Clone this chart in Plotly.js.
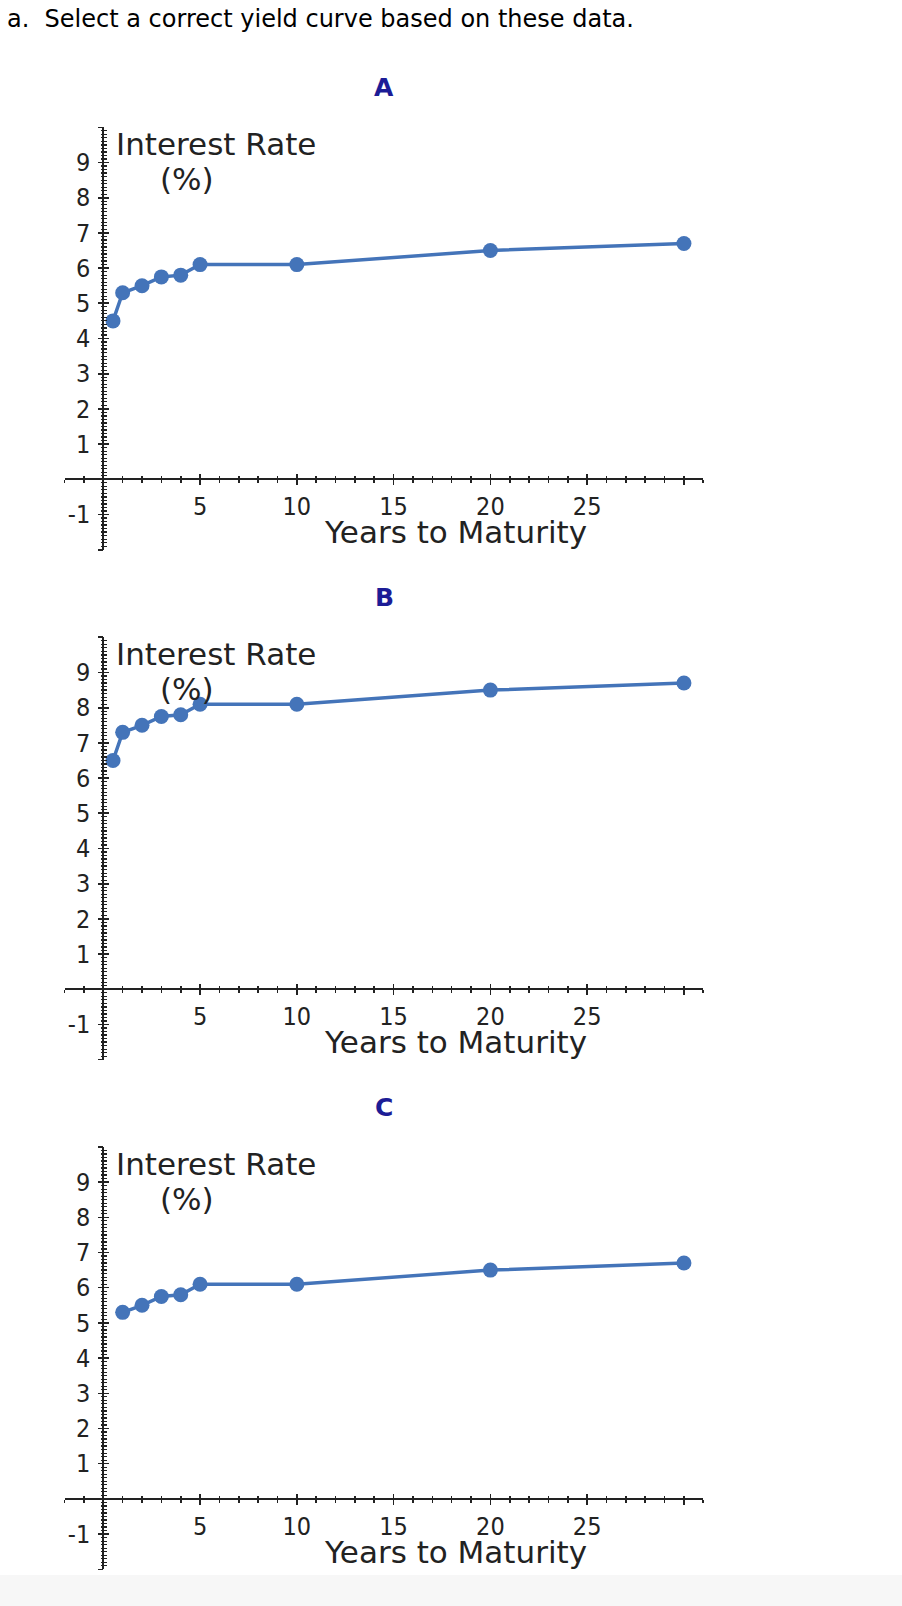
<!DOCTYPE html>
<html>
<head>
<meta charset="utf-8">
<script src="https://cdn.plot.ly/plotly-3.0.1.min.js"></script>
<style>
  html, body { margin: 0; padding: 0; background: #f7f7f7; }
  #chart { width: 902px; height: 1575px; background: #ffffff; }
</style>
</head>
<body>
<div id="chart"></div>
<script>
// ---- data ----
const headerText = "a.\u00a0 Select a correct yield curve based on these data.";
const panelTitles = ["A", "B", "C"];
const yearsAB = [0.5, 1, 2, 3, 4, 5, 10, 20, 30];
const rateA = [4.5, 5.3, 5.5, 5.75, 5.8, 6.1, 6.1, 6.5, 6.7];
const rateB = [6.5, 7.3, 7.5, 7.75, 7.8, 8.1, 8.1, 8.5, 8.7];
const yearsC = [1, 2, 3, 4, 5, 10, 20, 30];
const rateC = [5.3, 5.5, 5.75, 5.8, 6.1, 6.1, 6.5, 6.7];
const xTickVals = [0, 5, 10, 15, 20, 25, 30];
const xTickText = ["", "5", "10", "15", "20", "25", ""];
const yTickVals = [-2, -1, 0, 1, 2, 3, 4, 5, 6, 7, 8, 9, 10];
const yTickText = ["", "-1", "", "1", "2", "3", "4", "5", "6", "7", "8", "9", ""];
const yTitleLine1 = "Interest Rate";
const yTitleLine2 = "(%)";
const xTitle = "Years to Maturity";

// ---- layout geometry (pixels) ----
const W = 902, H = 1575;
const fx = p => p / W;
const fy = p => 1 - p / H;
const X0 = 64.6, X1 = 703.3;
const XR = [-2, 31], YR = [-2, 10];
const UY = 35.2;
const baseY = [479.3, 989.3, 1498.9];
const yAxisPx = X0 + (0 - XR[0]) * (X1 - X0) / (XR[1] - XR[0]);

const lineColor = "#4474b9";
const axisColor = "#222222";
const tickFont = { family: "DejaVu Sans Condensed, DejaVu Sans", size: 25, color: "#222" };
const titleFont = { family: "DejaVu Sans", size: 31, color: "#222" };

const series = [[yearsAB, rateA], [yearsAB, rateB], [yearsC, rateC]];

const data = [];
const layout = {
  width: W, height: H,
  margin: { l: 0, r: 0, t: 0, b: 0 },
  paper_bgcolor: "#ffffff",
  plot_bgcolor: "rgba(0,0,0,0)",
  showlegend: false,
  annotations: []
};

layout.annotations.push({
  text: headerText, xref: "paper", yref: "paper",
  x: fx(5), y: fy(19), xanchor: "left", yanchor: "middle", showarrow: false,
  font: { family: "DejaVu Sans", size: 24, color: "#000" }
});

for (let i = 0; i < 3; i++) {
  const xid = i === 0 ? "x" : "x" + (i + 1);
  const yid = i === 0 ? "y" : "y" + (i + 1);
  const xoid = "x" + (i + 4), yoid = "y" + (i + 4);
  const xkey = "xaxis" + (i === 0 ? "" : i + 1);
  const ykey = "yaxis" + (i === 0 ? "" : i + 1);
  const b = baseY[i];

  const xCommon = {
    range: XR, anchor: "free", position: fy(b), side: "bottom",
    showgrid: false, showline: false,
    tickmode: "array", tickvals: xTickVals, ticktext: xTickText,
    ticklen: 5, tickwidth: 1.6, tickcolor: axisColor,
    minor: { tickmode: "linear", tick0: 0, dtick: 1, ticklen: 3, tickwidth: 1.6, tickcolor: axisColor }
  };
  const yCommon = {
    range: YR, anchor: "free", position: fx(yAxisPx), side: "left",
    showgrid: false, showline: false,
    tickmode: "array", tickvals: yTickVals, ticktext: yTickText,
    ticklen: 5, tickwidth: 1.6, tickcolor: axisColor,
    minor: { tickmode: "linear", tick0: 0, dtick: 0.1, ticklen: 2.5, tickwidth: 1.2, tickcolor: axisColor }
  };

  layout[xkey] = Object.assign({}, xCommon, {
    domain: [fx(X0), fx(X1)],
    ticks: "outside", minor: Object.assign({}, xCommon.minor, { ticks: "outside" }),
    showticklabels: true, tickfont: tickFont, ticklabelstandoff: 0,
    zeroline: true, zerolinecolor: axisColor, zerolinewidth: 2
  });
  layout[ykey] = Object.assign({}, yCommon, {
    domain: [fy(b + (0 - YR[0]) * UY), fy(b - YR[1] * UY)],
    ticks: "outside", minor: Object.assign({}, yCommon.minor, { ticks: "outside" }),
    showticklabels: true, tickfont: tickFont, ticklabelstandoff: 3,
    zeroline: true, zerolinecolor: axisColor, zerolinewidth: 2
  });
  layout["xaxis" + (i + 4)] = Object.assign({}, xCommon, {
    overlaying: xid, ticks: "inside",
    minor: Object.assign({}, xCommon.minor, { ticks: "inside" }),
    showticklabels: false, zeroline: false
  });
  layout["yaxis" + (i + 4)] = Object.assign({}, yCommon, {
    overlaying: yid, ticks: "inside",
    minor: Object.assign({}, yCommon.minor, { ticks: "inside" }),
    showticklabels: false, zeroline: false
  });

  data.push({ x: [null], y: [null], xaxis: xoid, yaxis: yid, mode: "markers", hoverinfo: "skip" });
  data.push({ x: [null], y: [null], xaxis: xid, yaxis: yoid, mode: "markers", hoverinfo: "skip" });
  data.push({
    x: series[i][0], y: series[i][1], xaxis: xid, yaxis: yid,
    type: "scatter", mode: "lines+markers", cliponaxis: false,
    line: { color: lineColor, width: 3.5 },
    marker: { color: lineColor, size: 15 },
    hoverinfo: "skip"
  });

  layout.annotations.push({
    text: "<b>" + panelTitles[i] + "</b>", xref: "paper", yref: "paper",
    x: fx(384), y: fy(b - 391.5), xanchor: "center", yanchor: "middle", showarrow: false,
    font: { family: "DejaVu Sans", size: 25, color: "#1c1c96" }
  });
  layout.annotations.push({
    text: yTitleLine1, xref: "paper", yref: "paper",
    x: fx(114), y: fy(b - 335), xanchor: "left", yanchor: "middle", showarrow: false,
    font: titleFont
  });
  layout.annotations.push({
    text: yTitleLine2, xref: "paper", yref: "paper",
    x: fx(187), y: fy(b - 300), xanchor: "center", yanchor: "middle", showarrow: false,
    font: titleFont
  });
  layout.annotations.push({
    text: xTitle, xref: "paper", yref: "paper",
    x: fx(456), y: fy(b + 53), xanchor: "center", yanchor: "middle", showarrow: false,
    font: titleFont
  });
}

Plotly.newPlot("chart", data, layout, { staticPlot: true, displayModeBar: false });
</script>
</body>
</html>
